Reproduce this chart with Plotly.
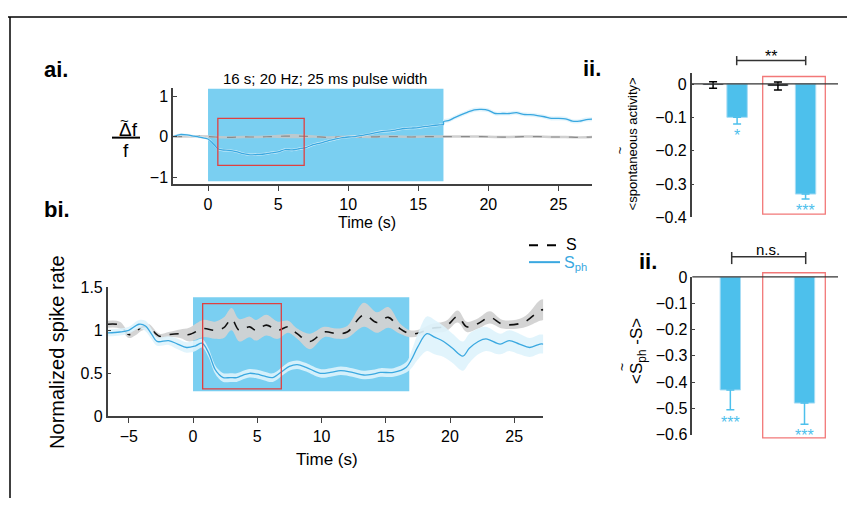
import plotly.graph_objects as go
import numpy as np

FONT = "Liberation Sans, Arial, sans-serif"
# page body has an 8px margin: the figure is sized so the page fits the 855x506 window
OFF = 8
W, H = 855 - 2 * OFF, 506 - 2 * OFF
BLUE = "#3AA8E0"
BAR_BLUE = "#4DC0EC"
STIM = "#7ACFF1"

# ---------------- data: panel ai (dF/F) ----------------
t_a = [-2.5, -2.0, -1.5, -1.0, -0.5, 0, 0.3, 0.7, 1.0, 1.5, 2.0, 2.5, 3.0, 3.5, 4.0, 4.5,
       5.0, 5.5, 6.0, 6.5, 7.0, 7.5, 8.0, 8.5, 9.0, 9.5, 10, 10.5, 11, 11.5, 12, 12.5,
       13, 13.5, 14, 14.5, 15, 15.5, 16, 16.5, 16.8, 16.81, 17.2, 17.6, 18, 18.5, 19,
       19.5, 20, 20.5, 21, 21.5, 22, 22.5, 23, 23.5, 24, 24.5, 25, 25.5, 26, 26.5, 27, 27.4]
sph_a = [0.0, 0.05, 0.04, 0.01, -0.02, -0.06, -0.15, -0.30, -0.33, -0.34, -0.37, -0.42,
         -0.45, -0.44, -0.43, -0.40, -0.38, -0.32, -0.33, -0.30, -0.27, -0.20, -0.16,
         -0.11, -0.07, -0.03, -0.01, 0.0, 0.03, 0.06, 0.10, 0.13, 0.14, 0.17, 0.20, 0.21,
         0.22, 0.25, 0.27, 0.29, 0.30, 0.37, 0.40, 0.47, 0.53, 0.60, 0.66, 0.67, 0.65,
         0.57, 0.57, 0.57, 0.59, 0.55, 0.54, 0.52, 0.49, 0.45, 0.45, 0.44, 0.38, 0.38,
         0.42, 0.43]
sph_a_err = [0.03] * 41 + [0.05] * 23

t_c = [-2.5, -1.5, -0.5, 0.5, 1.5, 2.5, 3.5, 4.5, 5.5, 6.5, 7.5, 8.5, 9.5, 10.5, 11.5,
       12.5, 13.5, 14.5, 15.5, 16.5, 17.5, 18.5, 19.5, 20.5, 21.5, 22.5, 23.5, 24.5,
       25.5, 26.5, 27.4]
ctrl_a = [0.0, 0.0, 0.01, -0.01, -0.02, -0.01, -0.01, 0.0, 0.01, 0.01, 0.0, -0.02, -0.01,
          0.0, -0.01, 0.0, 0.0, -0.01, 0.0, 0.0, 0.0, 0.0, 0.0, -0.01, -0.01, 0.0, 0.0,
          -0.01, -0.01, -0.02, -0.01]
ctrl_a_err = [0.03] * 8 + [0.05, 0.05] + [0.03] * 21

# ---------------- data: panel bi (spike rate) ----------------
t_s = [-6.64, -5.7, -5.0, -4.5, -3.9, -3.4, -2.6, -1.9, -1.0, -0.3, 0.8, 1.7, 2.4, 3.0,
       3.6, 4.4, 4.9, 5.7, 6.6, 7.4, 8.1, 9.1, 10.2, 11.2, 12.0, 13.3, 14.3, 15.2, 16.1,
       16.9, 17.6, 18.5, 19.7, 20.6, 21.3, 22.2, 23.1, 24.1, 25.7, 27.0, 27.26]
s_vals = [1.07, 1.06, 0.95, 0.98, 1.04, 1.03, 0.93, 0.95, 0.96, 0.95, 1.02, 1.0, 1.03,
          1.13, 1.0, 1.04, 1.0, 1.06, 1.0, 1.04, 0.96, 0.87, 0.98, 0.96, 0.98, 1.18, 1.09,
          1.15, 1.02, 0.96, 0.97, 1.02, 1.05, 1.16, 1.04, 1.08, 1.15, 1.07, 1.09, 1.23, 1.24]
s_err = [0.04, 0.04, 0.04, 0.04, 0.04, 0.04, 0.03, 0.03, 0.05, 0.08, 0.10, 0.10, 0.12,
         0.13, 0.13, 0.12, 0.12, 0.12, 0.10, 0.07, 0.06, 0.09, 0.06, 0.06, 0.07, 0.14,
         0.12, 0.12, 0.06, 0.04, 0.04, 0.05, 0.06, 0.07, 0.06, 0.06, 0.07, 0.05, 0.06,
         0.12, 0.12]

t_p = [-6.64, -5.7, -5.0, -4.2, -3.7, -3.2, -2.8, -1.9, -1.2, -0.5, 0.2, 0.7, 1.2, 1.7,
       2.0, 2.35, 2.9, 3.4, 3.9, 4.4, 5.0, 5.5, 6.2, 7.0, 7.5, 8.1, 8.8, 9.9, 10.7, 11.5,
       12.4, 13.3, 14.0, 14.6, 15.6, 16.6, 17.0, 17.5, 18.2, 18.8, 19.5, 20.2, 21.0, 21.5,
       22.2, 22.8, 23.9, 24.6, 25.4, 26.2, 27.0, 27.26]
p_vals = [0.97, 0.98, 1.0, 1.07, 1.05, 0.95, 0.87, 0.88, 0.84, 0.80, 0.82, 0.85, 0.74,
          0.55, 0.49, 0.45, 0.45, 0.45, 0.48, 0.50, 0.49, 0.47, 0.45, 0.53, 0.58, 0.60,
          0.57, 0.50, 0.51, 0.53, 0.51, 0.48, 0.49, 0.51, 0.51, 0.57, 0.66, 0.81, 0.96,
          0.92, 0.87, 0.79, 0.70, 0.79, 0.87, 0.90, 0.84, 0.88, 0.84, 0.80, 0.84, 0.84]
p_err = [0.04, 0.04, 0.04, 0.05, 0.06, 0.06, 0.05, 0.05, 0.06, 0.06, 0.06, 0.05, 0.05,
         0.05, 0.05, 0.05, 0.05, 0.05, 0.05, 0.05, 0.05, 0.05, 0.05, 0.05, 0.05, 0.05,
         0.05, 0.05, 0.05, 0.05, 0.05, 0.05, 0.05, 0.05, 0.05, 0.06, 0.10, 0.15, 0.20,
         0.20, 0.18, 0.17, 0.17, 0.17, 0.15, 0.14, 0.12, 0.12, 0.12, 0.11, 0.11, 0.11]

# ---------------- data: panels ii (bars) ----------------
top_ctrl_x = [1.0, 3.7]
top_ctrl_val = [-0.003, -0.006]
top_ctrl_err = [0.010, 0.012]
top_ph_x = [2.0, 4.85]
top_ph_val = [-0.10, -0.33]
top_ph_err = [0.02, 0.015]
top_stars = ["*", "***"]

bot_x = [1.7, 4.8]
bot_val = [-0.43, -0.48]
bot_err = [0.075, 0.08]
bot_stars = ["***", "***"]


def PX(x):
    return (x - OFF) / W


def PY(y):
    return 1 - (y - OFF) / H


fig = go.Figure()


def band(x, y, e, xa, ya, color):
    y = np.array(y)
    e = np.array(e)
    fig.add_trace(go.Scatter(x=x, y=y - e, mode="lines", line=dict(width=0, shape="spline"),
                             xaxis=xa, yaxis=ya, showlegend=False, hoverinfo="skip"))
    fig.add_trace(go.Scatter(x=x, y=y + e, mode="lines", line=dict(width=0, shape="spline"),
                             fill="tonexty", fillcolor=color, xaxis=xa, yaxis=ya,
                             showlegend=False, hoverinfo="skip"))


# panel ai
band(t_c, ctrl_a, ctrl_a_err, "x", "y", "rgba(200,200,200,0.85)")
fig.add_trace(go.Scatter(x=t_c, y=ctrl_a, mode="lines",
                         line=dict(color="#8a8a8a", width=1.2, dash="dash", shape="spline"),
                         xaxis="x", yaxis="y", showlegend=False))
band(t_a, sph_a, sph_a_err, "x", "y", "rgba(222,243,252,0.88)")
fig.add_trace(go.Scatter(x=t_a, y=sph_a, mode="lines",
                         line=dict(color=BLUE, width=1.3, shape="spline", smoothing=0.6),
                         xaxis="x", yaxis="y", showlegend=False))

# panel bi
band(t_s, s_vals, s_err, "x2", "y2", "rgba(210,210,210,0.95)")
fig.add_trace(go.Scatter(x=t_s, y=s_vals, mode="lines",
                         line=dict(color="#111111", width=1.6, dash="dash", shape="spline"),
                         xaxis="x2", yaxis="y2", showlegend=False))
band(t_p, p_vals, p_err, "x2", "y2", "rgba(222,243,252,0.9)")
fig.add_trace(go.Scatter(x=t_p, y=p_vals, mode="lines",
                         line=dict(color=BLUE, width=1.3, shape="spline"),
                         xaxis="x2", yaxis="y2", showlegend=False))

# panel ii top
fig.add_trace(go.Bar(x=top_ctrl_x, y=top_ctrl_val, width=0.85, marker=dict(color="black"),
                     error_y=dict(type="data", symmetric=True, array=top_ctrl_err,
                                  color="black", thickness=1.5, width=4),
                     xaxis="x3", yaxis="y3", showlegend=False))
fig.add_trace(go.Bar(x=top_ph_x, y=top_ph_val, width=0.85,
                     marker=dict(color=BAR_BLUE, line=dict(color="#a8ddf5", width=1)),
                     error_y=dict(type="data", symmetric=False, array=[0, 0],
                                  arrayminus=top_ph_err, color=BAR_BLUE, thickness=1.5, width=4),
                     xaxis="x3", yaxis="y3", showlegend=False))
# panel ii bottom
fig.add_trace(go.Bar(x=bot_x, y=bot_val, width=0.85,
                     marker=dict(color=BAR_BLUE, line=dict(color="#a8ddf5", width=1)),
                     error_y=dict(type="data", symmetric=False, array=[0, 0],
                                  arrayminus=bot_err, color=BAR_BLUE, thickness=1.5, width=4),
                     xaxis="x4", yaxis="y4", showlegend=False))

axc = dict(showgrid=False, zeroline=False, showline=True, linecolor="#404040", linewidth=1.5,
           tickcolor="#404040", tickfont=dict(size=16, color="black", family=FONT))

fig.update_layout(
    width=W, height=H, margin=dict(l=0, r=0, t=0, b=0), autosize=False,
    paper_bgcolor="white", plot_bgcolor="rgba(0,0,0,0)", barmode="overlay",
    font=dict(family=FONT, color="black"),
    xaxis=dict(axc, domain=[PX(173), PX(592)], range=[-2.5, 27.4], anchor="y",
               tickvals=[0, 5, 10, 15, 20, 25], ticks="outside", ticklen=5),
    yaxis=dict(axc, domain=[PY(182), PY(83)], range=[-1.17, 1.19], anchor="x",
               tickvals=[-1, 0, 1], ticks="inside", ticklen=4),
    xaxis2=dict(axc, domain=[PX(107.7), PX(543.3)], range=[-6.64, 27.26], anchor="y2",
                tickvals=[-5, 0, 5, 10, 15, 20, 25], ticks="outside", ticklen=5),
    yaxis2=dict(axc, domain=[PY(422.7), PY(289)], range=[0, 1.5], anchor="x2",
                tickvals=[0, 0.5, 1, 1.5], ticktext=["0", "0.5", "1", "1.5"],
                ticks="inside", ticklen=4),
    xaxis3=dict(domain=[PX(691.7), PX(838)], range=[0.11, 6.2], anchor="y3", visible=False),
    yaxis3=dict(axc, domain=[PY(216.7), PY(66.7)], range=[-0.4, 0.034], anchor="x3",
                tickvals=[0, -0.1, -0.2, -0.3, -0.4], ticks="inside", ticklen=3,
                tickfont=dict(size=16, color="black", family=FONT)),
    xaxis4=dict(domain=[PX(692.3), PX(838)], range=[0.11, 6.2], anchor="y4", visible=False),
    yaxis4=dict(axc, domain=[PY(441.7), PY(278.3)], range=[-0.6, 0], anchor="x4",
                tickvals=[0, -0.1, -0.2, -0.3, -0.4, -0.5, -0.6], ticks="inside", ticklen=3,
                tickfont=dict(size=16, color="black", family=FONT)),
)

shapes = []
# stimulation rectangles and red boxes
shapes.append(dict(type="rect", xref="x", yref="y", x0=0, x1=16.8, y0=-1.1, y1=1.19,
                   fillcolor=STIM, line=dict(width=0), layer="below"))
shapes.append(dict(type="rect", xref="x", yref="y", x0=0.7, x1=6.86, y0=-0.71, y1=0.45,
                   line=dict(color="#E04040", width=1.3)))
shapes.append(dict(type="rect", xref="x2", yref="y2", x0=0, x1=16.83, y0=0.29, y1=1.385,
                   fillcolor=STIM, line=dict(width=0), layer="below"))
shapes.append(dict(type="rect", xref="x2", yref="y2", x0=0.75, x1=6.87, y0=0.32, y1=1.31,
                   line=dict(color="#E04040", width=1.3)))


def pline(x0, y0, x1, y1, color="#333333", width=1.5, dash=None):
    d = dict(type="line", xref="paper", yref="paper", x0=PX(x0), y0=PY(y0), x1=PX(x1),
             y1=PY(y1), line=dict(color=color, width=width))
    if dash:
        d["line"]["dash"] = dash
    shapes.append(d)


def prect(x0, y0, x1, y1, color):
    shapes.append(dict(type="rect", xref="paper", yref="paper", x0=PX(x0), y0=PY(y0),
                       x1=PX(x1), y1=PY(y1), line=dict(color=color, width=1.3)))


# red boxes in ii panels
prect(762.7, 70.7, 825.3, 213.3, "#F27878")
prect(762.7, 274, 825.3, 445, "#F27878")
# zero lines
pline(691.7, 78.3, 838, 78.3, "#333333", 1.3)
pline(692.3, 278.3, 838, 278.3, "#333333", 1.3)
# brackets
pline(736.7, 54, 805.7, 54)
pline(736.7, 49.5, 736.7, 59)
pline(805.7, 49.5, 805.7, 59)
pline(731.7, 257.5, 805.7, 257.5)
pline(731.7, 252.5, 731.7, 265)
pline(805.7, 252.5, 805.7, 265)
# fraction bar
pline(112, 134, 140, 134, "black", 2)
# legend lines
pline(529, 245.5, 557, 245.5, "black", 2, "dash")
pline(529, 263, 560, 263, BLUE, 2)
# frame
pline(7, 9, 860, 9, "black", 1.5)
pline(10, 9, 10, 520, "black", 1.5)

anns = []


def txt(x, y, s, size, color="black", bold=False, angle=0, xanchor="center"):
    anns.append(dict(xref="paper", yref="paper", x=PX(x), y=PY(y),
                     text=("<b>" + s + "</b>") if bold else s, showarrow=False,
                     font=dict(size=size, color=color, family=FONT), xanchor=xanchor,
                     yanchor="middle", textangle=angle))


txt(42, 63, "ai.", 22, bold=True, xanchor="left")
txt(42, 208, "bi.", 22, bold=True, xanchor="left")
txt(581, 62, "ii.", 22, bold=True, xanchor="left")
txt(637, 262, "ii.", 22, bold=True, xanchor="left")
txt(325, 73, "16 s; 20 Hz; 25 ms pulse width", 15)
txt(367, 222, "Time (s)", 16)
txt(327, 467, "Time (s)", 17)
txt(57, 357, "Normalized spike rate", 20, angle=-90)
txt(128, 126, "Δf", 19)
txt(124, 116, "~", 15)
txt(126, 147, "f", 19)
txt(564, 245, "S", 16, xanchor="left")
txt(562, 264, "S<sub>ph</sub>", 16, color=BLUE, xanchor="left")
txt(632, 141, "<spontaneous activity>", 13, angle=-90)
txt(619, 147, "~", 13, angle=-90)
txt(638, 355, "<S<sub>ph</sub> -S>", 17, angle=-90)
txt(622.7, 372, "~", 14, angle=-90)
txt(771, 50, "**", 16)
txt(768, 250, "n.s.", 15)
# significance stars under bars
for xv, s, yp in zip([737, 805.5], top_stars, [132, 210]):
    txt(xv, yp, s, 16, color=BAR_BLUE)
for xv, s, yp in zip([730, 804.7], bot_stars, [429, 443]):
    txt(xv, yp, s, 16, color=BAR_BLUE)

fig.update_layout(shapes=shapes, annotations=anns)
fig.write_html("out.html")
